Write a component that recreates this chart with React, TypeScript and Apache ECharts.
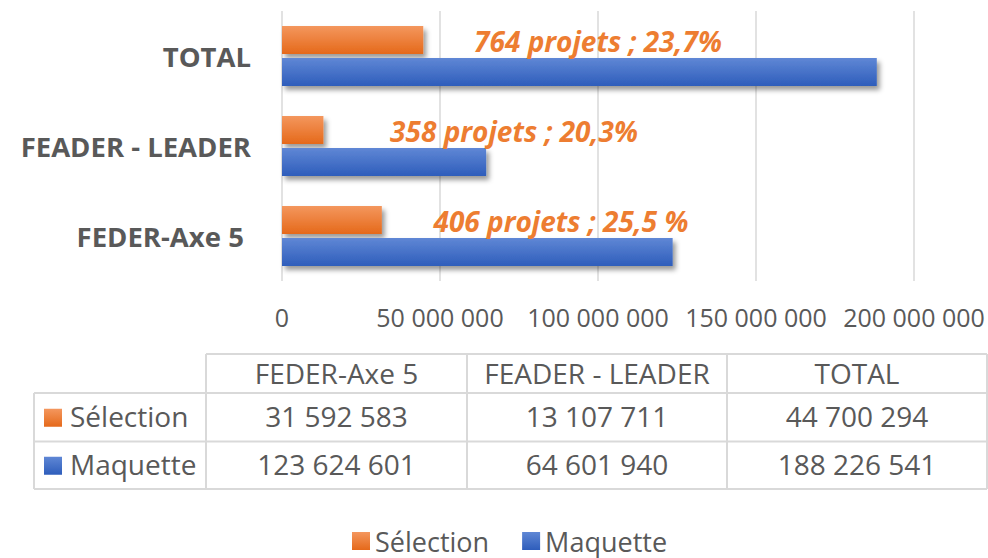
import React, { useEffect, useRef } from "react";
import * as echarts from "echarts";

const categories = ["FEDER-Axe 5", "FEADER - LEADER", "TOTAL"];
const seriesNames = ["Sélection", "Maquette"];
const selectionValues = [31592583, 13107711, 44700294];
const maquetteValues = [123624601, 64601940, 188226541];
const annotations = ["406 projets ; 25,5 %", "358 projets ; 20,3%", "764 projets ; 23,7%"];
const xTicks = [0, 50000000, 100000000, 150000000, 200000000];

const FONT = "'Open Sans', 'Noto Sans', sans-serif";
const GREY = "#595959";
const LINE = "#D9D9D9";

const fmt = (n: number) => String(n).replace(/\B(?=(\d{3})+(?!\d))/g, " ");

const orangeGrad = () =>
  new echarts.graphic.LinearGradient(0, 0, 0, 1, [
    { offset: 0, color: "#F4975E" },
    { offset: 1, color: "#E5691A" },
  ]);
const blueGrad = () =>
  new echarts.graphic.LinearGradient(0, 0, 0, 1, [
    { offset: 0, color: "#5F87D5" },
    { offset: 1, color: "#2E5DBB" },
  ]);

export default function App() {
  const ref = useRef<HTMLDivElement>(null);

  useEffect(() => {
    if (!ref.current) return;
    const chart = echarts.init(ref.current, undefined, { renderer: "svg" });

    const colX = [34, 206, 467, 727, 987];
    const rowY = [354, 393, 441.5, 489];
    const graphics: any[] = [];
    const lineStyle = { stroke: LINE, lineWidth: 2 };
    graphics.push({ type: "line", shape: { x1: colX[1], y1: rowY[0], x2: colX[4], y2: rowY[0] }, style: lineStyle });
    for (let r = 1; r < rowY.length; r++) {
      graphics.push({ type: "line", shape: { x1: colX[0], y1: rowY[r], x2: colX[4], y2: rowY[r] }, style: lineStyle });
    }
    graphics.push({ type: "line", shape: { x1: colX[0], y1: rowY[1], x2: colX[0], y2: rowY[3] }, style: lineStyle });
    for (let c = 1; c < colX.length; c++) {
      graphics.push({ type: "line", shape: { x1: colX[c], y1: rowY[0], x2: colX[c], y2: rowY[3] }, style: lineStyle });
    }
    const cellText = (text: string, x: number, y: number, align = "center") => ({
      type: "text",
      style: { text, x, y, align, verticalAlign: "middle", fontSize: 28, fontFamily: FONT, fill: GREY },
    });
    const rowsVals = [selectionValues, maquetteValues];
    categories.forEach((cat, i) => {
      const cx = (colX[i + 1] + colX[i + 2]) / 2;
      graphics.push(cellText(cat, cx, (rowY[0] + rowY[1]) / 2 - 1));
      rowsVals.forEach((vals, r) => {
        graphics.push(cellText(fmt(vals[i]), cx, (rowY[r + 1] + rowY[r + 2]) / 2 - 1));
      });
    });
    seriesNames.forEach((name, r) => {
      const cy = (rowY[r + 1] + rowY[r + 2]) / 2;
      graphics.push({
        type: "rect",
        shape: { x: 44, y: cy - 8.5, width: 18, height: 18 },
        style: { fill: r === 0 ? orangeGrad() : blueGrad() },
      });
      graphics.push(cellText(name, 70, cy - 1, "left"));
    });
    const annPos = [
      [561, 221],
      [514, 131],
      [598, 41],
    ];
    annotations.forEach((t, i) => {
      graphics.push({
        type: "text",
        z: 100,
        style: {
          text: t,
          x: annPos[i][0],
          y: annPos[i][1],
          align: "center",
          verticalAlign: "middle",
          fontSize: 28,
          fontWeight: "bold",
          fontStyle: "italic",
          fontFamily: FONT,
          fill: "#ED7D31",
        },
      });
    });

    const shadow = {
      shadowBlur: 5,
      shadowOffsetX: 3,
      shadowOffsetY: 4,
      shadowColor: "rgba(0,0,0,0.4)",
    };

    chart.setOption({
      animation: false,
      grid: { left: 282, right: 74, top: 11, bottom: 277, containLabel: false },
      xAxis: {
        type: "value",
        min: xTicks[0],
        max: xTicks[xTicks.length - 1],
        interval: xTicks[1] - xTicks[0],
        axisLine: { show: false },
        axisTick: { show: false },
        splitLine: { show: true, lineStyle: { color: LINE, width: 1.5 } },
        axisLabel: {
          formatter: (v: number) => fmt(v),
          color: GREY,
          fontSize: 25,
          fontFamily: FONT,
          margin: 23,
        },
      },
      yAxis: {
        type: "category",
        data: categories,
        axisLine: { show: false },
        axisTick: { show: false },
        axisLabel: {
          formatter: (v: string) => (v === "FEDER-Axe 5" ? v + " " : v),
          color: GREY,
          fontSize: 27.5,
          fontWeight: "bold",
          fontFamily: FONT,
          margin: 31,
        },
      },
      legend: {
        data: seriesNames,
        left: 352,
        top: 527,
        padding: 0,
        itemWidth: 18,
        itemHeight: 18,
        itemGap: 33,
        icon: "rect",
        textStyle: { color: GREY, fontSize: 27, fontFamily: FONT, lineHeight: 28 },
      },
      series: [
        {
          name: seriesNames[0],
          type: "bar",
          data: selectionValues,
          barWidth: 28,
          barGap: "15%",
          itemStyle: { color: orangeGrad(), ...shadow },
        },
        {
          name: seriesNames[1],
          type: "bar",
          data: maquetteValues,
          barWidth: 28,
          barGap: "15%",
          itemStyle: { color: blueGrad(), ...shadow },
        },
      ],
      graphic: graphics,
    });

    return () => chart.dispose();
  }, []);

  return (
    <div
      ref={ref}
      style={{ position: "absolute", left: 0, top: 0, width: 988, height: 558, background: "#fff" }}
    />
  );
}
